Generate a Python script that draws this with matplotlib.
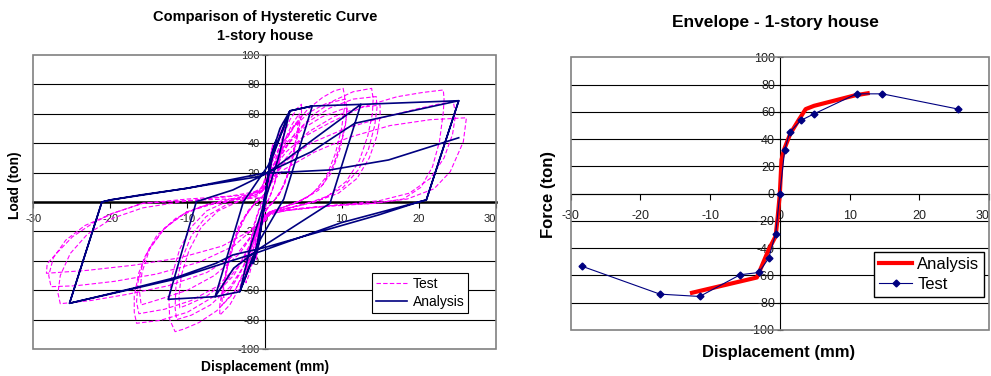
import numpy as np
import matplotlib
matplotlib.use("Agg")
import matplotlib.pyplot as plt
from matplotlib.patches import Rectangle

plt.rcParams['font.family'] = ['Liberation Sans', 'DejaVu Sans']
plt.rcParams['axes.unicode_minus'] = False

# ---- left chart: hysteretic curves (displacement mm, load ton) ----
# analysis (bilinear model)
analysis_disp = [0, 0.8, 1.5, 0.5, -0.8, -1.5, -0.5, 0.8, 2.0, 3.3, 1.8, 0.3, -1.0, -3.2, -1.8, -0.3,
                 1.0, 3.3, 6.2, 2.5, -0.5, -3.2, -6.4, -2.75, 0.5, 3.3, 6.2, 12.5, 8.5, -0.6, -4.0,
                 -6.4, -12.5, -8.85, -4.1, 0.5, 12.5, 25.2, 21.0, 20.0, 14.8, 0.0, -4.1, -6.3, -11.4,
                 -17.1, -25.3, -21.1, -20.0, -16.1, -10.1, -7.5, -0.8, 6.1, 11.7, 25.2, 21.0, 20.0,
                 10.0, -0.6, -12.0, -25.3, -21.1, -20.0, -10.1, -0.2, 8.5, 16.1, 25.2]
analysis_load = [0, 30, 42, 20, -30, -42, -20, 30, 50, 62, 30, 5, -30, -61, -30, -5,
                 30, 62, 65.3, 2, -25, -61, -64.4, 0, 25, 62, 65.3, 66.4, -0.9, -31.5, -45,
                 -64.4, -66.2, 0.2, 8.2, 20, 66.4, 68.9, 1.4, 0, -8.8, -31, -36, -41.7, -51.2,
                 -58.7, -68.9, 0, 1.4, 4.8, 9.3, 11.6, 17.2, 34.2, 53.5, 68.9, 1.4, 0,
                 -14, -33.8, -53, -68.9, 0, 1.4, 9.3, 19.5, 21.8, 28.6, 43.7]

# test record, one list per amplitude stage
test_stage1 = [(0, 0), (0.4, 18), (0.8, 32), (1.1, 40), (1.1, 36), (0.7, 20), (0.2, 5), (-0.3, -12),
               (-0.7, -28), (-1.1, -40), (-1.1, -36), (-0.7, -20), (-0.2, -5), (0.3, 12), (0.7, 28),
               (1.0, 37), (1.0, 33), (0.6, 18), (0.1, 3), (-0.4, -14), (-0.8, -30), (-1.0, -36),
               (-1.0, -32), (-0.6, -16), (-0.1, -2)]
test_stage2 = [(0.3, 10), (0.9, 28), (1.6, 42), (2.2, 52), (2.6, 56), (2.6, 50), (2.2, 35), (1.6, 18),
               (0.8, 5), (0, -4), (-0.6, -18), (-1.3, -35), (-1.9, -48), (-2.4, -55), (-2.4, -49),
               (-2.0, -33), (-1.4, -16), (-0.6, -3), (0.2, 6), (0.8, 22), (1.5, 38), (2.1, 48),
               (2.5, 52), (2.5, 46), (2.0, 30), (1.3, 12), (0.5, 1), (-0.3, -8), (-0.9, -25),
               (-1.6, -40), (-2.3, -50), (-2.3, -44), (-1.8, -28), (-1.0, -10), (-0.2, 0)]
test_stage3 = [(0.5, 8), (1.2, 25), (2.2, 42), (3.3, 56), (4.3, 64), (4.8, 66.5), (4.8, 60), (4.3, 45),
               (3.6, 28), (2.6, 12), (1.4, 2), (0.2, -5), (-0.8, -20), (-1.9, -40), (-3.2, -58),
               (-4.5, -70), (-5.8, -77), (-5.8, -70), (-5.3, -55), (-4.5, -35), (-3.4, -17),
               (-2.0, -5), (-0.6, 2),
               (0.5, 8), (1.5, 26), (2.6, 42), (3.6, 53), (4.5, 60), (4.5, 54), (4.0, 40), (3.2, 22),
               (2.2, 8), (1.0, -1), (-0.2, -7), (-1.2, -24), (-2.4, -44), (-3.8, -60), (-5.5, -70),
               (-5.5, -63), (-5.0, -48), (-4.1, -30), (-3.0, -14), (-1.6, -3), (-0.3, 3),
               (0.8, 12), (1.9, 30), (3.0, 44), (4.3, 55), (4.3, 49), (3.8, 35), (3.0, 18), (1.9, 5),
               (0.6, -3), (-0.6, -12), (-1.7, -30), (-3.1, -48), (-4.5, -60), (-5.3, -65),
               (-5.3, -58), (-4.7, -42), (-3.7, -24), (-2.4, -9), (-1.0, 1)]
test_stage4 = [(0.2, 6), (1.0, 22), (2.2, 38), (3.8, 52), (5.6, 63), (7.5, 71), (9.0, 75.5),
               (10.2, 77.3), (10.4, 72), (10.4, 65), (10.0, 50), (9.2, 33), (8.0, 17), (6.3, 6),
               (4.0, -1), (1.5, -5), (0, -9), (-1.0, -25), (-2.3, -45), (-4.0, -62), (-6.2, -74),
               (-8.5, -82), (-10.5, -86.5), (-11.6, -88.2), (-12.3, -80), (-12.4, -66), (-12.0, -50),
               (-11.0, -32), (-9.5, -17), (-7.5, -6), (-5.0, 0), (-2.5, 4),
               (-0.5, 8), (0.5, 22), (2.0, 38), (3.8, 51), (5.8, 61), (8.0, 67), (10.5, 70),
               (10.7, 64), (10.5, 52), (9.8, 36), (8.7, 20), (7.0, 8), (4.8, 1), (2.2, -4), (0.2, -8),
               (-1.0, -22), (-2.5, -42), (-4.5, -58), (-7.0, -70), (-9.5, -77), (-11.4, -80),
               (-11.6, -72), (-11.5, -58), (-10.8, -40), (-9.5, -23), (-7.6, -10), (-5.0, -2),
               (-2.5, 2),
               (-0.3, 7), (1.0, 22), (2.8, 38), (5.0, 50), (7.5, 58), (10.0, 63), (10.7, 64),
               (10.6, 56), (10.0, 42), (9.0, 26), (7.6, 12), (5.5, 3), (2.8, -3), (0.5, -7),
               (-0.8, -20), (-2.5, -38), (-4.8, -53), (-7.5, -64), (-10.0, -70), (-11.0, -72),
               (-11.1, -64), (-10.8, -50), (-9.8, -33), (-8.2, -17), (-6.0, -6), (-3.5, 0), (-1.0, 4)]
test_stage5 = [(0.5, 12), (2.0, 30), (4.0, 47), (6.5, 60), (9.0, 69), (11.5, 75), (13.9, 77.3),
               (14.1, 70), (14.0, 60), (13.4, 45), (12.3, 28), (10.6, 14), (8.2, 4), (5.0, -2),
               (1.5, -6), (-0.5, -12), (-2.0, -32), (-4.0, -50), (-6.8, -65), (-10.0, -75),
               (-13.5, -80.5), (-16.6, -82.5), (-16.9, -75), (-16.9, -64), (-16.3, -48), (-15.0, -32),
               (-13.0, -18), (-10.2, -7), (-7.0, -1), (-3.5, 3),
               (-0.5, 7), (0.8, 22), (2.8, 40), (5.5, 54), (8.5, 64), (11.5, 70), (14.5, 71.7),
               (14.6, 64), (14.3, 52), (13.5, 36), (12.2, 22), (10.2, 10), (7.5, 2), (4.0, -3),
               (0.8, -8), (-1.0, -20), (-3.0, -40), (-6.0, -57), (-9.5, -67), (-13.0, -73),
               (-16.3, -76), (-16.6, -68), (-16.4, -54), (-15.6, -38), (-14.0, -23), (-11.5, -11),
               (-8.2, -3), (-4.5, 1),
               (-1.0, 5), (0.5, 18), (2.8, 34), (5.8, 48), (9.0, 58), (12.0, 64), (15.0, 66),
               (15.0, 58), (14.6, 45), (13.6, 30), (12.0, 16), (9.6, 6), (6.5, 0), (3.0, -4),
               (0.5, -8), (-1.0, -18), (-3.2, -35), (-6.5, -50), (-10.0, -60), (-13.5, -66),
               (-16.0, -70), (-16.2, -62), (-15.9, -48), (-14.9, -32), (-13.0, -18), (-10.2, -7),
               (-6.5, -1), (-3.0, 2)]
test_stage6 = [(0.5, 10), (2.5, 28), (5.0, 44), (8.5, 54), (12.8, 64.8), (17.2, 71.6), (20.5, 74.5),
               (23.2, 76.2), (23.3, 70), (23.2, 61), (22.7, 41), (21.8, 24), (20.3, 10), (18.0, 2),
               (14.0, -1), (9.4, -2), (4.0, -5), (0.7, -7.7), (-1.0, -18), (-3.5, -35), (-7.5, -48),
               (-12.5, -57), (-18.0, -63), (-22.5, -67), (-26.5, -69.2), (-26.8, -62), (-26.5, -50),
               (-25.2, -35), (-23.0, -22), (-19.7, -11), (-15.8, -4), (-11.0, 0), (-6.0, 3), (-2.0, 5),
               (0.5, 12), (2.8, 28), (6.0, 40), (10.5, 50), (15.0, 57), (19.5, 63), (22.5, 66.5),
               (24.5, 68), (24.8, 60), (24.4, 46), (23.3, 30), (21.5, 16), (18.8, 6), (15.0, 1),
               (10.0, -2), (5.0, -4), (1.0, -7), (-1.0, -16), (-4.0, -30), (-8.5, -41), (-14.0, -49),
               (-19.5, -54), (-24.5, -57), (-27.7, -57.6), (-28.0, -50), (-27.4, -38), (-25.8, -26),
               (-23.3, -16), (-19.7, -7.7), (-15.8, -0.9), (-10.0, 2), (-4.5, 4),
               (0.0, 8), (2.5, 22), (6.5, 34), (11.0, 44), (16.3, 52), (21.5, 56), (26.2, 57.3),
               (26.0, 49), (25.8, 41), (24.1, 20.6), (22.0, 9), (18.5, 2), (14.0, -1), (8.0, -3),
               (2.5, -6), (0, -10), (-2.0, -20), (-5.5, -30), (-11.0, -38), (-17.0, -43),
               (-23.0, -46.5), (-28.3, -48.5), (-28.2, -42), (-27.0, -35), (-24.9, -23.6),
               (-22.3, -14.5), (-19.7, -7.7), (-15.8, -0.9), (-10.0, 1), (-5.0, 2), (0, 3)]

# ---- right chart: envelope ----
env_analysis_disp = [-12.6, -3.3, -2.8, -1.6, -0.6, -0.3, 0.0, 0.24, 0.58, 1.5, 2.7, 3.7, 4.9, 10.7, 12.6]
env_analysis_load = [-72.7, -61.5, -55.6, -41, -31.2, -16.6, 0, 24.9, 32, 44, 54, 62, 64.4, 72, 73.6]
env_test_disp = [-28.4, -17.2, -11.5, -5.7, -3.0, -1.6, -0.6, 0, 0.7, 1.4, 3.0, 4.9, 11.0, 14.7, 25.6]
env_test_load = [-53.2, -73.7, -75.4, -59.5, -57.8, -47.3, -29.3, 0, 32.2, 44.9, 53.7, 58.5, 73.2, 73.2, 62]

x_ticks = [-30, -20, -10, 0, 10, 20, 30]
y_ticks = [-100, -80, -60, -40, -20, 0, 20, 40, 60, 80, 100]

W, H = 991, 376


def px(x, y):
    # pixel position (from top-left) -> figure fraction
    return x / W, 1 - y / H


def style_axes(ax, tick_size, zero_lw, xpad):
    ax.set_xlim(-30, 30)
    ax.set_ylim(-100, 100)
    ax.set_xticks(x_ticks)
    ax.set_yticks(y_ticks)
    for v in y_ticks[1:-1]:
        ax.axhline(v, color='black', lw=0.8, zorder=1)
    ax.spines['left'].set_position(('data', 0))
    ax.spines['bottom'].set_position(('data', 0))
    ax.spines['top'].set_visible(False)
    ax.spines['right'].set_visible(False)
    ax.spines['left'].set_linewidth(0.8)
    ax.spines['bottom'].set_linewidth(zero_lw)
    ax.tick_params(axis='y', direction='inout', length=5, width=0.8, labelsize=tick_size, pad=1,
                   labelcolor='#222222')
    ax.tick_params(axis='x', direction='out', length=4, width=0.8, labelsize=tick_size, pad=xpad,
                   labelcolor='#222222')
    # last x label sits at the right edge of the figure, keep it inside
    ax.get_xticklabels()[-1].set_horizontalalignment('right')
    ax.add_patch(Rectangle((0, 0), 1, 1, transform=ax.transAxes, fill=False,
                           edgecolor='#808080', lw=1.2, clip_on=False, zorder=5))


fig = plt.figure(figsize=(W / 100, H / 100), dpi=100)

# left: hysteretic curves
ax1 = fig.add_axes([33.3 / W, 27 / H, 462.4 / W, 294 / H])
style_axes(ax1, 8, 1.8, 5)
test_path = test_stage1 + test_stage2 + test_stage3 + test_stage4 + test_stage5 + test_stage6
test_disp = [p[0] for p in test_path]
test_load = [p[1] for p in test_path]
ax1.plot(test_disp, test_load, color='#FF00FF', lw=0.8, dashes=(4, 2), label='Test', zorder=3)
ax1.plot(analysis_disp, analysis_load, color='#000080', lw=1.2, label='Analysis', zorder=4)
ax1.legend(loc='upper left', bbox_to_anchor=(0.733, 0.26), fontsize=10, frameon=True,
           fancybox=False, edgecolor='black', framealpha=1, borderpad=0.3, labelspacing=0.3,
           handlelength=2.2, handletextpad=0.4, borderaxespad=0).get_frame().set_linewidth(0.8)

fig.text(*px(265, 17), 'Comparison of Hysteretic Curve', ha='center', va='center',
         fontsize=10.5, fontweight='bold')
fig.text(*px(265, 36), '1-story house', ha='center', va='center', fontsize=10.5, fontweight='bold')
fig.text(*px(15, 185), 'Load (ton)', ha='center', va='center', rotation=90, fontsize=10,
         fontweight='bold')
fig.text(*px(265, 367), 'Displacement (mm)', ha='center', va='center', fontsize=10,
         fontweight='bold')

# right: envelope
ax2 = fig.add_axes([570.7 / W, 46 / H, 418.3 / W, 272.7 / H])
style_axes(ax2, 9, 0.8, 8)
ax2.plot(env_analysis_disp, env_analysis_load, color='#FF0000', lw=3, label='Analysis', zorder=3)
ax2.plot(env_test_disp, env_test_load, color='#000080', lw=0.8, marker='D', markersize=3.5,
         label='Test', zorder=4)
ax2.legend(loc='upper left', bbox_to_anchor=(0.725, 0.287), fontsize=12, frameon=True,
           fancybox=False, edgecolor='black', framealpha=1, borderpad=0.3, labelspacing=0.3,
           handlelength=2.0, handletextpad=0.3, borderaxespad=0).get_frame().set_linewidth(1.0)

fig.text(*px(775, 22.7), 'Envelope - 1-story house', ha='center', va='center', fontsize=12.5,
         fontweight='bold')
fig.text(*px(548, 194), 'Force (ton)', ha='center', va='center', rotation=90, fontsize=12,
         fontweight='bold')
fig.text(*px(779, 353), 'Displacement (mm)', ha='center', va='center', fontsize=12,
         fontweight='bold')

fig.savefig('out.png', dpi=100)
plt.close(fig)
